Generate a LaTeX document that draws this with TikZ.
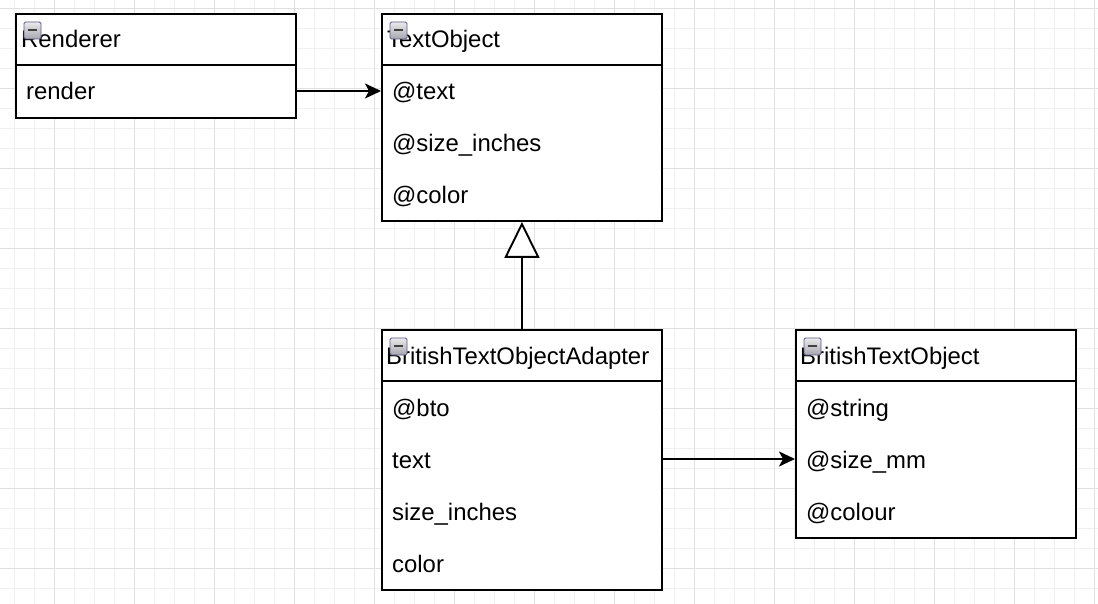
\documentclass[tikz,border=0pt]{standalone}
\usepackage{fontspec}
\setmainfont{Liberation Sans}
\usetikzlibrary{arrows.meta,calc}
\begin{document}
\begin{tikzpicture}[x=1pt,y=-1pt,
  box/.style={draw=black, line width=1.9pt, rectangle, inner sep=0pt, anchor=north west, fill=white},
  divider/.style={draw=black, line width=1.9pt},
  lbl/.style={inner sep=0pt, anchor=base west, font=\fontsize{23.9}{28}\selectfont},
  minorgrid/.style={draw=black!6, line width=0.9pt},
  majorgrid/.style={draw=black!12, line width=0.9pt},
  arr/.style={draw=black, line width=1.9pt, -{Stealth[length=16pt,width=15pt,inset=4pt]}},
  inherit/.style={draw=black, line width=1.9pt, -{Triangle[open,length=36pt,width=35pt,fill=white,line width=1.9pt]}},
  icon/.style={draw=black!40!blue!30!gray, line width=0.8pt, rounded corners=1.5pt, top color=black!8, bottom color=blue!10!black!35},
]
\useasboundingbox (0,0) rectangle (1098,604);
\fill[white] (0,0) rectangle (1098,604);
% grid
\foreach \gx in {14,34,...,1094} {\draw[minorgrid] (\gx,0) -- (\gx,604);}
\foreach \gy in {8,28,...,600} {\draw[minorgrid] (0,\gy) -- (1098,\gy);}
\foreach \gx in {54,134,...,1094} {\draw[majorgrid] (\gx,0) -- (\gx,604);}
\foreach \gy in {8,88,...,600} {\draw[majorgrid] (0,\gy) -- (1098,\gy);}

% boxes
\node[box, minimum width=280pt, minimum height=104pt] (renderer) at (15,13) {};
\node[box, minimum width=280pt, minimum height=207pt] (textobj) at (381,13) {};
\node[box, minimum width=280pt, minimum height=260pt] (adapter) at (381,329) {};
\node[box, minimum width=280pt, minimum height=208pt] (bto) at (795,329) {};

% dividers
\foreach \b in {renderer,textobj,adapter,bto} {
  \draw[divider] ([yshift=-52pt]\b.north west) -- ([yshift=-52pt]\b.north east);
}

% row coordinates (vertical centres)
\coordinate (renderer-h) at ([yshift=-26pt]renderer.north west);
\coordinate (renderer-r1) at ([yshift=-78pt]renderer.north west);
\coordinate (textobj-h) at ([yshift=-26pt]textobj.north west);
\coordinate (textobj-r1) at ([yshift=-78pt]textobj.north west);
\coordinate (textobj-r2) at ([yshift=-130pt]textobj.north west);
\coordinate (textobj-r3) at ([yshift=-182pt]textobj.north west);
\coordinate (adapter-h) at ([yshift=-26pt]adapter.north west);
\coordinate (adapter-r1) at ([yshift=-78pt]adapter.north west);
\coordinate (adapter-r2) at ([yshift=-130pt]adapter.north west);
\coordinate (adapter-r3) at ([yshift=-182pt]adapter.north west);
\coordinate (adapter-r4) at ([yshift=-234pt]adapter.north west);
\coordinate (bto-h) at ([yshift=-26pt]bto.north west);
\coordinate (bto-r1) at ([yshift=-78pt]bto.north west);
\coordinate (bto-r2) at ([yshift=-130pt]bto.north west);
\coordinate (bto-r3) at ([yshift=-182pt]bto.north west);

% headers
\node[lbl] (renderer-name) at ([xshift=6pt,yshift=-9pt]renderer-h) {Renderer};
\node[lbl] (textobj-name) at ([xshift=6pt,yshift=-9pt]textobj-h) {TextObject};
\node[lbl] (adapter-name) at ([xshift=5pt,yshift=-9pt]adapter-h) {BritishTextObjectAdapter};
\node[lbl] (bto-name) at ([xshift=5pt,yshift=-9pt]bto-h) {BritishTextObject};

% rows
\node[lbl] (renderer-render) at ([xshift=11pt,yshift=-9pt]renderer-r1) {render};
\node[lbl] (textobj-text) at ([xshift=11pt,yshift=-9pt]textobj-r1) {@text};
\node[lbl] (textobj-size) at ([xshift=11pt,yshift=-9pt]textobj-r2) {@size\_inches};
\node[lbl] (textobj-color) at ([xshift=11pt,yshift=-9pt]textobj-r3) {@color};
\node[lbl] (adapter-bto) at ([xshift=11pt,yshift=-9pt]adapter-r1) {@bto};
\node[lbl] (adapter-text) at ([xshift=11pt,yshift=-9pt]adapter-r2) {text};
\node[lbl] (adapter-size) at ([xshift=11pt,yshift=-9pt]adapter-r3) {size\_inches};
\node[lbl] (adapter-color) at ([xshift=11pt,yshift=-9pt]adapter-r4) {color};
\node[lbl] (bto-string) at ([xshift=11pt,yshift=-9pt]bto-r1) {@string};
\node[lbl] (bto-size) at ([xshift=11pt,yshift=-9pt]bto-r2) {@size\_mm};
\node[lbl] (bto-colour) at ([xshift=11pt,yshift=-9pt]bto-r3) {@colour};

% collapse icons
\foreach \b in {renderer,textobj,adapter,bto} {
  \path[icon] ($(\b.north west)+(9,9)$) rectangle ++(17,17);
  \fill[black!75] ($(\b.north west)+(13,16)$) rectangle ++(9,2.2);
}

% connectors
\draw[arr] (renderer-r1 -| renderer.east) -- (textobj-r1 -| textobj.west);
\draw[arr] (adapter-r2 -| adapter.east) -- (bto-r2 -| bto.west);
\draw[inherit] (adapter.north) -- (textobj.south);
\end{tikzpicture}
\end{document}
